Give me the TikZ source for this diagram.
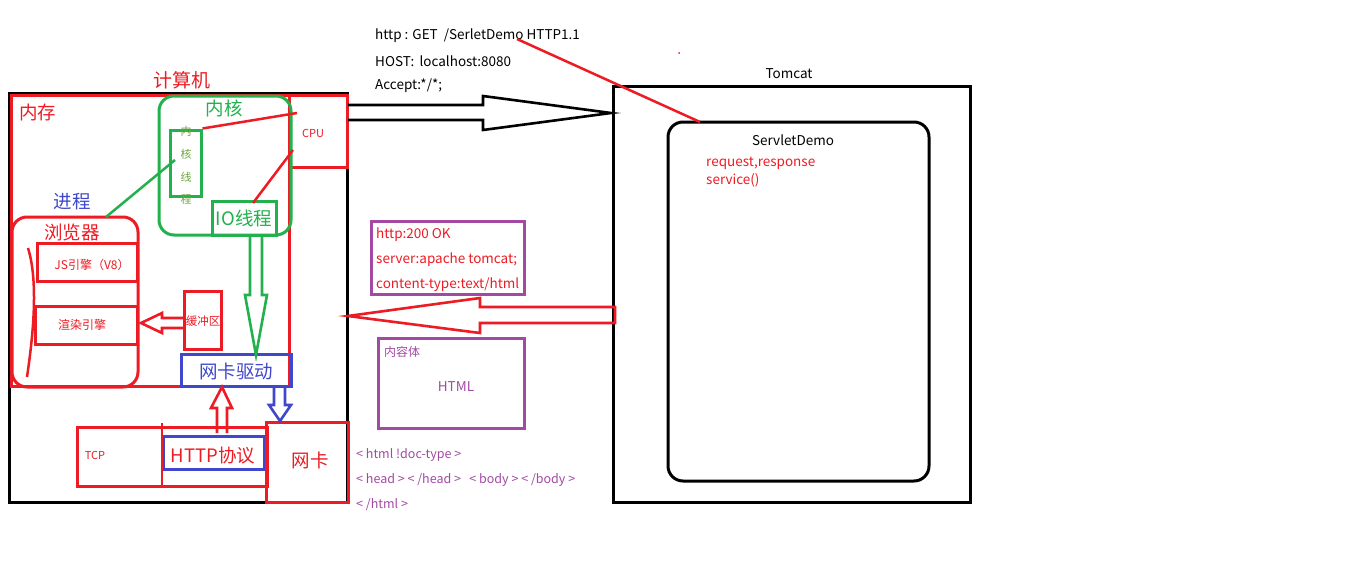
\documentclass[tikz,border=0pt]{standalone}
\usepackage{fontspec}
\setmainfont{Noto Sans CJK SC}
\usetikzlibrary{calc}
\definecolor{pred}{RGB}{237,28,36}
\definecolor{pgreen}{RGB}{34,177,76}
\definecolor{pblue}{RGB}{63,72,204}
\definecolor{ppurple}{RGB}{163,73,164}
\definecolor{kolive}{RGB}{110,165,60}
\newcommand\myfs[1]{\fontsize{#1}{#1}\selectfont}
\begin{document}
\begin{tikzpicture}[x=1pt,y=-1pt,
  box/.style={draw=#1, rectangle, inner sep=0pt, line width=3pt},
  rbox/.style={draw=#1, rectangle, rounded corners=15pt, inner sep=0pt, line width=3pt},
  txt/.style={inner sep=0pt, text=#1},
  big/.style={font=\myfs{18.5}},
  small/.style={font=\myfs{12}},
  lat/.style={font=\myfs{13.5}},
  lft/.style={anchor=west},
  link/.style={draw=#1, line width=2.5pt},
  hollow/.style={draw=#1, line width=2.6pt, line join=miter}]
\useasboundingbox[fill=white] (0,0) rectangle (1360,586);

% computer
\node[box=black, minimum width=338, minimum height=409] (comp) at (178,297.5) {};
\node[box=pred, minimum width=278, minimum height=291] (mem) at (150,240.5) {};
\node[box=pred, minimum width=58, minimum height=72] (cpu) at (318,131) {};
\node[rbox=pgreen, minimum width=132, minimum height=139] (kernel) at (225,165.5) {};
\node[box=pgreen, minimum width=31, minimum height=66] (kthread) at (185.5,163) {};
\node[box=pgreen, minimum width=64, minimum height=34] (io) at (244,218) {};
\node[rbox=pred, minimum width=126, minimum height=170] (browser) at (75,302) {};
\node[box=pred, minimum width=100, minimum height=38] (js) at (87,262) {};
\node[box=pred, minimum width=102, minimum height=38] (render) at (86,325) {};
\node[box=pred, minimum width=37, minimum height=58] (buffer) at (202.5,320) {};
\node[box=pblue, minimum width=110, minimum height=32] (nicdrv) at (236,370) {};
\node[box=pred, minimum width=190, minimum height=59] (tcp) at (172,456.5) {};
\node[box=pblue, minimum width=101, minimum height=33] (http) at (213.5,452.5) {};
\node[box=pred, minimum width=82, minimum height=80] (nic) at (307,462) {};
\draw[link=pred] (162,423) -- (162,487);

% texts in computer
\node[txt=pred, font=\myfs{19}] (compt) at (182,80) {计算机};
\node[txt=pred, big] (memt) at (38,112) {内存};
\node[txt=pred, font=\myfs{11}] (cput) at (313,133) {CPU};
\node[txt=pgreen, big] (kernelt) at (224,108) {内核};
\node[txt=kolive, font=\myfs{11}] (kt1) at (186,131) {内};
\node[txt=kolive, font=\myfs{11}] (kt2) at (186,154) {核};
\node[txt=kolive, font=\myfs{11}] (kt3) at (186,177) {线};
\node[txt=kolive, font=\myfs{11}] (kt4) at (186,199) {程};
\node[txt=pgreen, big] (iot) at (244,218) {IO线程};
\node[txt=pblue, big] (proct) at (72,202) {进程};
\node[txt=pred, big] (browsert) at (72,232) {浏览器};
\node[txt=pred, small] (jst) at (92,265) {JS引擎（V8）};
\node[txt=pred, small] (rendert) at (82,325) {渲染引擎};
\node[txt=pred, font=\myfs{11.5}] (buffert) at (203,321) {缓冲区};
\node[txt=pblue, big] (nicdrvt) at (236,371) {网卡驱动};
\node[txt=pred, font=\myfs{11}] (tcpt) at (95,455) {TCP};
\node[txt=pred, big] (httpt) at (213,456) {HTTP协议};
\node[txt=pred, big] (nict) at (310,460) {网卡};

% links in computer
\coordinate (cpu1) at (297,113);
\coordinate (cpu2) at (293,150);
\coordinate (io1) at (253,203);
\coordinate (br1) at (106,217);
\coordinate (kt5) at (175,160);
\draw[link=pred] (kthread.north east) -- (cpu1);
\draw[link=pred] (io1) -- (cpu2);
\draw[link=pgreen] (br1) -- (kt5);
\draw[link=pred] (28,248) .. controls (38,280) and (34,330) .. (27,377);

% hollow arrows in computer
\draw[hollow=pgreen] (250,236) -- (250,295) -- (245,295) -- (256,355) -- (267,295) -- (262,295) -- (262,236);
\draw[hollow=pred] (217,433) -- (217,408) -- (211,408) -- (222,387) -- (232,408) -- (227,408) -- (227,433);
\draw[hollow=pblue] (274,387) -- (274,405) -- (269,405) -- (280,421) -- (291,405) -- (285,405) -- (285,387);
\draw[hollow=pred] (183,318) -- (162,318) -- (162,313) -- (141,323) -- (162,333) -- (162,328) -- (183,328);

% Tomcat
\node[box=black, minimum width=357, minimum height=416] (tomcat) at (791.5,294) {};
\node[rbox=black, minimum width=261, minimum height=359] (servlet) at (798.5,301.5) {};
\node[txt=black, lat] (tomcatt) at (789,74) {Tomcat};
\node[txt=black, lat] (servlett) at (793,140) {ServletDemo};
\node[txt=pred, lat, lft] (sv1) at (706,163) {request,response};
\node[txt=pred, lat, lft] (sv2) at (706,180) {service()};

% request
\node[txt=black, lat, lft] (rq1) at (375,36) {http : GET \ /SerletDemo HTTP1.1};
\node[txt=black, lat, lft] (rq2) at (375,61) {HOST: \,localhost:8080};
\node[txt=black, lat, lft] (rq3) at (375,86) {Accept:*/*;};
\draw[hollow=black] (348,105) -- (483,105) -- (483,96) -- (611,113) -- (483,130) -- (483,120) -- (348,120);
\coordinate (rqend) at (517,39);
\coordinate (svtop) at (700,122);
\draw[link=pred] (rqend) -- (svtop);
\fill[pred] (679,53) circle (1);

% response
\node[box=ppurple, minimum width=153, minimum height=73] (resp) at (447.5,257.5) {};
\node[txt=pred, lat, lft] (rs1) at (376,235) {http:200 OK};
\node[txt=pred, lat, lft] (rs2) at (376,260) {server:apache tomcat;};
\node[txt=pred, lat, lft] (rs3) at (376,285) {content-type:text/html};
\draw[hollow=pred] (615,307) -- (480,307) -- (480,298) -- (348,316) -- (480,333) -- (480,323) -- (615,323) -- cycle;
\node[box=ppurple, minimum width=146, minimum height=90] (content) at (451,383) {};
\node[txt=ppurple, small, lft] (contentt) at (384,352) {内容体};
\node[txt=ppurple, lat] (htmlt) at (456,387) {HTML};
\node[txt=ppurple, font=\myfs{12.5}, lft] (h1) at (356,455) {< html !doc-type >};
\node[txt=ppurple, font=\myfs{12.5}, lft] (h2) at (356,480) {< head > < /head > \ \ < body > < /body >};
\node[txt=ppurple, font=\myfs{12.5}, lft] (h3) at (356,505) {< /html >};
\end{tikzpicture}
\end{document}
